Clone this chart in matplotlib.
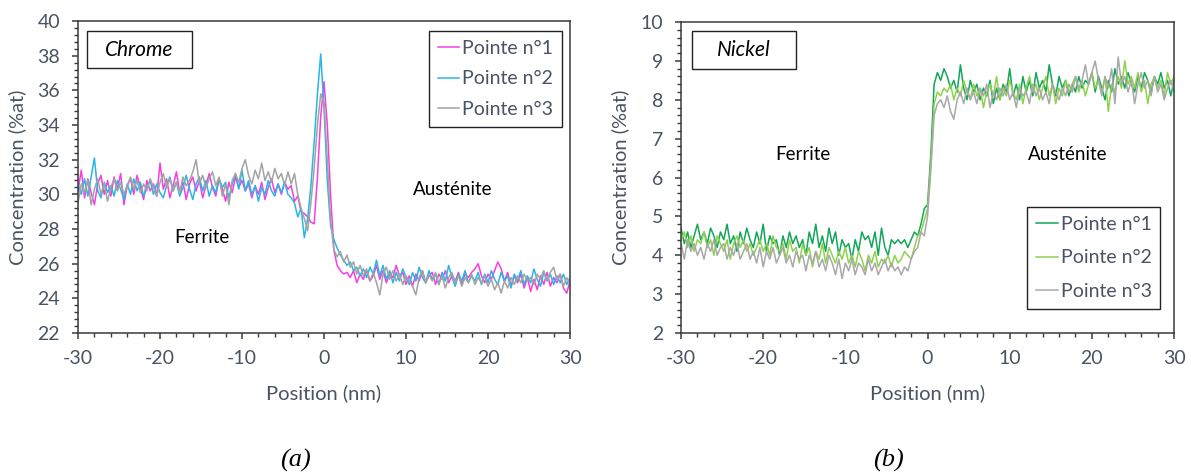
import numpy as np
import matplotlib
matplotlib.use('Agg')
import matplotlib.pyplot as plt
from matplotlib.ticker import MultipleLocator
from matplotlib.patches import Rectangle

plt.rcParams['font.family'] = ['Lato', 'DejaVu Sans']
plt.rcParams['axes.unicode_minus'] = False

# position (nm), one point every 0.4 nm
position = np.arange(151) * 0.4 - 30

# --- Chrome profiles (%at) ---
cr_pointe1 = [30.2, 31.4, 29.8, 30.9, 30.1, 29.4, 30.6, 31.1, 30.0, 30.8,
              29.9, 31.0, 30.3, 31.2, 29.4, 30.5, 30.9, 30.0, 31.1, 30.4,
              29.7, 30.8, 30.2, 30.6, 29.9, 31.8, 30.3, 30.9, 29.8, 30.5,
              31.3, 30.1, 30.7, 29.7, 30.6, 31.0, 30.2, 30.8, 29.8, 30.5,
              31.2, 30.4, 29.9, 30.9, 30.3, 29.6, 30.7, 30.1, 31.0, 30.4,
              30.8, 30.2, 30.6, 29.8, 30.5, 30.0, 30.7, 29.7, 30.4, 30.9,
              30.1, 30.6, 30.0, 30.7, 30.3, 30.5, 29.6, 29.9, 29.0, 28.9,
              28.7, 28.4, 28.3, 31.0, 34.5, 36.5, 34.0, 30.0, 26.8, 25.9,
              25.6, 25.4, 25.5, 25.2, 25.6, 24.9, 25.4, 25.1, 25.6, 25.0,
              25.3, 25.9, 25.1, 25.6, 24.9, 25.4, 25.2, 25.9, 25.3, 25.5,
              24.8, 25.3, 24.7, 25.4, 25.0, 25.6, 24.9, 25.3, 25.5, 24.8,
              25.4, 25.1, 25.6, 24.9, 25.3, 25.0, 25.5, 24.8, 25.4, 25.2,
              25.5, 25.7, 26.0, 25.3, 24.9, 25.4, 25.1, 25.6, 26.1, 25.7,
              25.0, 25.5, 24.7, 25.3, 24.9, 25.4, 24.6, 25.2, 24.4, 25.1,
              24.5, 25.3, 24.8, 25.5, 24.7, 25.2, 24.9, 25.4, 24.6, 24.3,
              25.0]
cr_pointe2 = [30.6, 30.0, 30.9, 29.9, 31.0, 32.1, 30.2, 29.8, 30.7, 30.1,
              30.5, 29.9, 30.8, 30.3, 29.7, 30.6, 30.0, 30.9, 30.2, 30.7,
              29.9, 30.4, 30.8, 30.0, 30.6, 30.1, 29.8, 30.5, 31.0, 30.2,
              30.7, 29.9, 30.4, 31.1, 30.3, 29.7, 30.6, 31.0, 30.2, 30.8,
              29.9, 30.5, 30.1, 30.9, 30.4, 30.7, 29.8, 30.6, 31.2, 30.3,
              31.4, 30.2, 30.8, 30.0, 30.5, 29.6, 30.4, 30.0, 30.8, 30.2,
              29.9, 30.6, 30.1, 30.7, 30.0, 29.8, 29.5, 28.7, 29.2, 27.5,
              28.6, 30.5, 33.0, 35.8, 38.1, 35.0, 30.8, 28.2, 27.4, 26.9,
              26.5, 26.2, 25.9, 26.1, 25.6, 25.8, 25.3, 25.7, 25.2, 25.8,
              25.4, 26.2, 25.3, 25.9, 25.1, 25.6, 24.9, 25.5, 25.0, 25.7,
              25.2, 24.8, 25.5, 25.0, 25.8, 25.2, 24.9, 25.6, 25.1, 25.4,
              24.8, 25.5, 25.0, 25.9, 25.2, 24.7, 25.4, 25.0, 25.6, 24.9,
              25.3, 25.0, 25.5, 24.8, 25.4, 24.9, 25.6, 25.1, 24.8, 25.5,
              25.0, 25.3, 24.6, 25.4, 25.0, 25.6, 24.8, 25.3, 24.9, 25.7,
              25.1, 24.7, 25.5, 25.0, 25.4, 24.8, 25.3, 24.9, 25.4, 24.8,
              25.2]
cr_pointe3 = [29.5, 30.6, 30.1, 30.8, 29.4, 30.3, 30.9, 30.0, 30.6, 29.6,
              30.4, 30.9, 30.2, 30.7, 30.0, 30.5, 31.0, 30.3, 30.8, 30.1,
              30.6, 30.2, 30.9, 30.4, 29.9, 30.7, 31.2, 30.4, 30.9, 30.2,
              30.7, 30.1, 31.0, 30.5, 30.8, 31.3, 32.0, 30.6, 31.1, 30.4,
              30.9, 31.3, 30.5, 31.0, 29.9, 30.6, 29.4, 30.8, 31.2, 30.7,
              31.5, 32.0, 31.1, 30.6, 31.4, 30.9, 31.8, 30.8, 31.3, 30.7,
              31.5, 30.9, 31.2, 30.5, 31.3, 30.6, 31.2, 30.0, 29.2, 28.6,
              27.9, 29.5, 31.5, 34.0, 35.8, 35.3, 32.0, 28.5, 26.8, 26.4,
              26.7, 26.1, 26.5, 25.8, 26.1, 25.4, 25.9, 25.3, 25.7, 25.0,
              25.5, 24.9, 24.2, 25.4, 25.8, 25.1, 25.6, 25.0, 25.4, 24.8,
              25.3, 25.0, 24.7, 24.2, 25.2, 25.6, 24.9, 25.4, 25.0, 25.5,
              24.8, 25.3, 24.6, 25.2, 25.5, 24.9, 25.3, 24.7, 25.2, 24.9,
              25.4, 24.8, 25.2, 24.9, 25.3, 24.7, 25.1, 24.5, 24.9, 24.3,
              25.0, 24.6, 25.2, 24.8, 25.3, 24.9, 25.4, 25.0, 25.2, 24.8,
              25.4, 25.1, 25.6, 25.0, 25.5, 25.8, 25.1, 25.4, 24.7, 25.2,
              24.8]

# --- Nickel profiles (%at) ---
ni_pointe1 = [4.7, 4.3, 4.6, 4.2, 4.5, 4.8, 4.4, 4.6, 4.3, 4.7,
              4.5, 4.2, 4.6, 4.4, 4.8, 4.3, 4.5, 4.1, 4.6, 4.3,
              4.7, 4.4, 4.2, 4.6, 4.3, 4.8, 4.1, 4.5, 4.3, 4.4,
              4.0, 4.5, 4.2, 4.6, 4.3, 4.5, 4.2, 4.4, 4.0, 4.6,
              4.3, 4.8, 4.2, 4.5, 4.1, 4.7, 4.3, 4.6, 4.0, 4.4,
              4.2, 4.3, 3.9, 4.4, 4.1, 4.6, 4.4, 4.5, 4.2, 4.6,
              4.0, 4.7, 4.2, 4.0, 4.4, 4.3, 4.4, 4.3, 4.4, 4.2,
              4.4, 4.6, 4.5, 4.8, 5.2, 5.3, 6.6, 8.4, 8.7, 8.5,
              8.8, 8.6, 8.3, 8.5, 8.2, 8.9, 8.3, 8.0, 8.5, 8.2,
              8.4, 8.0, 8.3, 8.1, 8.5, 7.9, 8.3, 8.0, 8.4, 8.2,
              8.8, 8.1, 8.4, 8.0, 8.6, 8.2, 8.5, 8.1, 8.7, 8.3,
              8.5, 8.2, 8.9, 8.4, 8.1, 8.6, 8.3, 8.5, 8.1, 8.4,
              8.2, 8.6, 8.3, 8.5, 8.4, 8.7, 8.2, 8.6, 8.3, 8.0,
              8.5, 8.2, 8.8, 8.4, 8.6, 8.3, 8.7, 8.4, 8.2, 8.6,
              8.3, 8.7, 8.5, 8.2, 8.6, 8.4, 8.7, 8.3, 8.5, 8.1,
              8.5]
ni_pointe2 = [4.4, 4.6, 4.2, 4.5, 4.1, 4.4, 4.3, 4.6, 4.2, 4.4,
              4.0, 4.5, 4.3, 4.1, 4.4, 3.9, 4.3, 4.5, 4.2, 4.4,
              4.1, 4.3, 4.0, 4.2, 4.4, 4.1, 4.3, 4.0, 4.5, 4.2,
              4.1, 4.3, 3.9, 4.4, 4.1, 4.2, 3.8, 4.3, 4.0, 4.2,
              3.7, 4.1, 3.9, 4.3, 3.8, 4.2, 4.0, 3.8, 4.1, 3.9,
              4.2, 3.8, 4.0, 3.7, 4.1, 3.9, 3.6, 4.0, 3.8, 4.1,
              3.7, 3.9, 3.8, 4.0, 3.7, 4.0, 3.8, 3.9, 4.1, 4.0,
              3.9, 4.2, 4.5, 4.6, 4.9, 5.2, 6.4, 7.9, 8.2, 8.1,
              8.3, 8.2, 8.4, 8.0, 8.3, 8.1, 8.5, 8.2, 8.0, 8.4,
              8.1, 8.3, 7.8, 8.2, 8.4, 8.1, 8.6, 8.0, 8.3, 8.1,
              8.5, 8.2, 8.0, 8.4, 7.9, 8.3, 8.6, 8.2, 8.4, 8.0,
              8.3, 8.6, 8.1, 8.4, 7.9, 8.3, 8.1, 8.5, 8.2, 8.4,
              8.6, 8.2, 8.5, 8.1, 8.4, 8.7, 8.3, 8.5, 8.2, 8.6,
              7.7, 8.4, 8.2, 8.6, 8.3, 9.0, 8.4, 8.6, 8.3, 8.7,
              8.2, 8.5, 7.9, 8.4, 8.6, 8.3, 8.5, 8.1, 8.7, 8.4,
              8.6]
ni_pointe3 = [4.3, 3.9, 4.4, 4.1, 4.3, 4.0, 4.2, 3.9, 4.3, 4.1,
              4.4, 4.0, 4.2, 4.3, 3.9, 4.2, 4.0, 4.3, 3.9, 4.1,
              4.3, 3.9, 4.1, 3.8, 4.2, 3.7, 4.1, 3.9, 4.2, 3.8,
              4.0, 4.2, 3.8, 4.0, 3.7, 4.1, 3.9, 4.0, 3.6, 4.0,
              3.8, 4.1, 3.7, 3.9, 3.6, 4.0, 3.8, 3.5, 3.9, 3.4,
              3.8, 3.6, 3.9, 3.5, 3.8, 3.7, 3.5, 3.9, 3.6, 3.8,
              3.5, 3.7, 3.9, 3.6, 3.8, 3.6, 3.7, 3.5, 3.7, 3.6,
              3.9, 4.1, 4.2, 4.6, 4.5, 5.0, 6.2, 7.6, 7.9, 8.0,
              7.8, 8.1, 7.7, 7.5, 8.0, 8.2, 7.9, 8.3, 8.0, 8.2,
              7.9, 8.3, 8.1, 8.4, 7.8, 8.2, 8.0, 8.3, 8.1, 8.4,
              8.0, 8.2, 7.8, 8.3, 8.1, 8.2, 7.9, 8.4, 8.1, 8.3,
              8.0, 8.2, 7.9, 8.4, 8.2, 8.0, 8.3, 8.1, 8.4, 8.2,
              8.6, 8.3, 8.5, 8.9, 8.4, 8.7, 9.0, 8.5, 8.1, 8.6,
              8.3, 8.8, 7.9, 9.1, 8.4, 8.6, 8.2, 8.5, 7.9, 8.4,
              8.7, 8.3, 8.5, 8.1, 8.6, 8.2, 8.4, 8.0, 8.3, 8.5,
              8.2]

labels = ['Pointe n°1', 'Pointe n°2', 'Pointe n°3']
text_color = '#4a5364'
spine_color = '#3a3a3a'

fig = plt.figure(figsize=(11.91, 4.75), dpi=100)
ax1 = fig.add_axes([0.0655, 0.2989, 0.4131, 0.6568])
ax2 = fig.add_axes([0.5718, 0.2989, 0.4140, 0.6547])


def style_axes(ax, ymin, ymax, ymajor, yminor):
    ax.set_xlim(-30, 30)
    ax.set_ylim(ymin, ymax)
    ax.xaxis.set_major_locator(MultipleLocator(10))
    ax.xaxis.set_minor_locator(MultipleLocator(2))
    ax.yaxis.set_major_locator(MultipleLocator(ymajor))
    ax.yaxis.set_minor_locator(MultipleLocator(yminor))
    ax.tick_params(which='major', direction='out', length=4, width=1.1,
                   color=spine_color, labelcolor=text_color, labelsize=14)
    ax.tick_params(which='minor', direction='out', length=3, width=1.0,
                   color=spine_color)
    ax.tick_params(axis='x', which='major', pad=8)
    ax.tick_params(axis='y', which='major', pad=9)
    for s in ax.spines.values():
        s.set_color(spine_color)
        s.set_linewidth(1.1)
    ax.set_xlabel('Position (nm)', color=text_color, fontsize=14.5)
    ax.set_ylabel('Concentration (%at)', color=text_color, fontsize=14.5)
    ax.xaxis.set_label_coords(0.5, -0.165)
    ax.yaxis.set_label_coords(-0.105, 0.5)


def name_box(ax, name, x0, x1, y0, y1):
    ax.add_patch(Rectangle((x0, y0), x1 - x0, y1 - y0, transform=ax.transAxes,
                           fill=False, edgecolor='#222222', linewidth=1.0))
    ax.text((x0 + x1) / 2, (y0 + y1) / 2, name, transform=ax.transAxes,
            ha='center', va='center', style='italic', fontsize=15, color='black')


# (a) Chrome
ax1.plot(position, cr_pointe1, color='#f53fe0', lw=1.1, label=labels[0])
ax1.plot(position, cr_pointe2, color='#2bb4e6', lw=1.1, label=labels[1])
ax1.plot(position, cr_pointe3, color='#a3a3a3', lw=1.1, label=labels[2])
style_axes(ax1, 22, 40, 2, 0.4)
name_box(ax1, 'Chrome', 0.018, 0.232, 0.849, 0.968)
ax1.text(-14.9, 27.5, 'Ferrite', ha='center', va='center', fontsize=13.5)
ax1.text(15.7, 30.3, 'Austénite', ha='center', va='center', fontsize=13.5)
leg1 = ax1.legend(loc='upper right', bbox_to_anchor=(0.984, 0.968), borderaxespad=0,
                  fontsize=14, handlelength=1.1, handletextpad=0.15, labelspacing=0.7,
                  fancybox=False, framealpha=1, edgecolor='#222222', labelcolor=text_color,
                  borderpad=0.45)
leg1.get_frame().set_linewidth(1.0)

# (b) Nickel
ax2.plot(position, ni_pointe1, color='#12a65a', lw=1.1, label=labels[0])
ax2.plot(position, ni_pointe2, color='#8fd14f', lw=1.1, label=labels[1])
ax2.plot(position, ni_pointe3, color='#a8a8a8', lw=1.1, label=labels[2])
style_axes(ax2, 2, 10, 1, 0.2)
name_box(ax2, 'Nickel', 0.022, 0.233, 0.849, 0.97)
ax2.text(-15.2, 6.6, 'Ferrite', ha='center', va='center', fontsize=13.5)
ax2.text(17.0, 6.6, 'Austénite', ha='center', va='center', fontsize=13.5)
leg2 = ax2.legend(loc='upper right', bbox_to_anchor=(0.972, 0.405), borderaxespad=0,
                  fontsize=14, handlelength=1.1, handletextpad=0.15, labelspacing=0.85,
                  fancybox=False, framealpha=1, edgecolor='#222222', labelcolor=text_color,
                  borderpad=0.45)
leg2.get_frame().set_linewidth(1.0)

fig.text(295 / 1191, 1 - 460 / 475, '(a)', family='Liberation Serif', style='italic',
         fontsize=19, ha='center', va='center')
fig.text(888 / 1191, 1 - 460 / 475, '(b)', family='Liberation Serif', style='italic',
         fontsize=19, ha='center', va='center')

fig.savefig('out.png', dpi=100)
